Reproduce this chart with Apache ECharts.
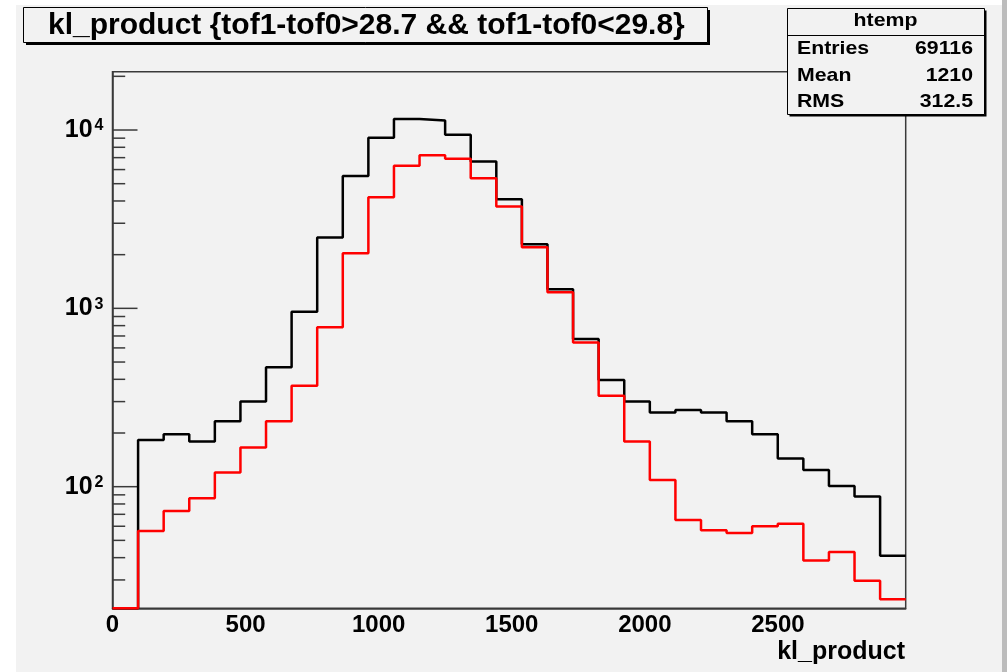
<!DOCTYPE html>
<html><head><meta charset="utf-8">
<script src="https://cdn.jsdelivr.net/npm/echarts@6/dist/echarts.min.js"></script>
<style>html,body{margin:0;padding:0;background:#fff}#c{width:1007px;height:672px}</style>
</head><body><div id="c"></div>
<script>
// ---- data ----
const titleText = 'kl_product {tof1-tof0>28.7 && tof1-tof0<29.8}';
const histName = 'htemp';
const xAxisTitle = 'kl_product';
const statLabels = ['Entries', 'Mean', 'RMS'];
const statValues = ['69116', '1210', '312.5'];
const xMin = 0, xMax = 2980, nBins = 31;
const yMin = 20.8, yMax = 21230;
const xTickInterval = 500;
// bin contents (all events, black) and selected (red)
const blackCounts = [0, 183, 197, 179, 233, 300, 468, 957, 2493, 5530, 9060, 11530, 11290, 9400, 6650, 4090,
  2285, 1280, 673, 396, 300, 261, 269, 261, 233, 197, 144, 124, 101, 88, 41];
const redCounts = [0, 56.5, 73, 86, 120, 166, 233, 368, 783, 2040, 4200, 6300, 7230, 6890, 5370, 3720,
  2200, 1230, 643, 323, 179, 109, 65, 57, 55, 60, 62, 38.5, 43, 29.7, 23.4];
const yMajorTicks = [100, 1000, 10000];
const yMinorTicks = [30, 40, 50, 60, 70, 80, 90, 200, 300, 400, 500, 600, 700, 800, 900,
  2000, 3000, 4000, 5000, 6000, 7000, 8000, 9000, 20000];

// ---- build ----
function stepData(counts) {
  const w = (xMax - xMin) / nBins;
  const d = counts.map((c, i) => [xMin + i * w, c > 0 ? c : yMin]);
  const last = counts[counts.length - 1];
  d.push([xMax, last > 0 ? last : yMin]);
  return d;
}
function tickSeries(vals, len) {
  return {
    type: 'custom', silent: true, z: 3, clip: false,
    data: vals.map(v => [xMin, v]),
    encode: { x: 0, y: 1 },
    renderItem: function (params, api) {
      const p = api.coord([api.value(0), api.value(1)]);
      return { type: 'line', shape: { x1: p[0], y1: p[1], x2: p[0] + len, y2: p[1] },
        style: { stroke: '#3a3a3a', lineWidth: 1.5 } };
    }
  };
}
const FF = '"Liberation Sans", Arial, Helvetica, sans-serif';
const chart = echarts.init(document.getElementById('c'), null, { renderer: 'canvas' });

const statsX = 787, statsY = 8, statsW = 197, statsH = 106;
const rowsY = [48.5, 75.5, 101.5];
const statGraphics = [];
statLabels.forEach((lab, i) => {
  statGraphics.push({ type: 'text', x: statsX + 10, y: rowsY[i], scaleX: 1.12, z: 101,
    style: { text: lab, fontFamily: FF, fontWeight: 'bold', fontSize: 19, fill: '#000', align: 'left', verticalAlign: 'middle' } });
  statGraphics.push({ type: 'text', x: statsX + statsW - 11, y: rowsY[i], scaleX: 1.12, z: 101,
    style: { text: statValues[i], fontFamily: FF, fontWeight: 'bold', fontSize: 19, fill: '#000', align: 'right', verticalAlign: 'middle' } });
});

chart.setOption({
  backgroundColor: '#f2f2f2',
  animation: false,
  grid: { left: 112.5, right: 101.3, top: 71.7, bottom: 63.7, show: true, borderColor: '#3a3a3a', borderWidth: 1.5, backgroundColor: 'transparent' },
  xAxis: {
    type: 'value', min: xMin, max: xMax, interval: xTickInterval,
    axisLine: { show: true, lineStyle: { color: '#3a3a3a', width: 1.5 } },
    axisTick: { show: false }, splitLine: { show: false },
    axisLabel: { showMaxLabel: false, margin: 17, verticalAlign: 'middle', color: '#000', fontFamily: FF, fontWeight: 'bold', fontSize: 24,
      formatter: function (v) { return String(v); } }
  },
  yAxis: {
    type: 'log', logBase: 10, min: yMin, max: yMax,
    axisLine: { show: true, lineStyle: { color: '#3a3a3a', width: 1.5 } },
    axisTick: { show: false }, splitLine: { show: false }, minorTick: { show: false },
    axisLabel: {
      showMinLabel: false, showMaxLabel: false, margin: 9,
      formatter: function (v) {
        const e = Math.round(Math.log10(v));
        if (Math.abs(Math.pow(10, e) - v) > 1e-6 * v) return '';
        return '{b|10}{s|' + e + '}';
      },
      rich: {
        b: { fontFamily: FF, fontWeight: 'bold', fontSize: 25, lineHeight: 24, color: '#000' },
        s: { fontFamily: FF, fontWeight: 'bold', fontSize: 16, lineHeight: 12, color: '#000', verticalAlign: 'top', padding: [0, 0, 0, 2] }
      }
    }
  },
  series: [
    { name: 'all', type: 'line', step: 'end', showSymbol: false, clip: false, z: 4,
      data: stepData(blackCounts), lineStyle: { color: '#000', width: 2.5 }, itemStyle: { color: '#000' } },
    { name: 'cut', type: 'line', step: 'end', showSymbol: false, clip: false, z: 5,
      data: stepData(redCounts), lineStyle: { color: '#ff0000', width: 2.5 }, itemStyle: { color: '#ff0000' } },
    tickSeries(yMajorTicks, 25),
    tickSeries(yMinorTicks, 12.7)
  ],
  graphic: [
    { type: 'rect', shape: { x: 0, y: 0, width: 1007, height: 5 }, style: { fill: '#ffffff' }, z: 90, silent: true },
    { type: 'rect', shape: { x: 0, y: 0, width: 16, height: 672 }, style: { fill: '#ffffff' }, z: 90, silent: true },
    { type: 'rect', shape: { x: 1002, y: 0, width: 5, height: 672 }, style: { fill: '#bcbcbc' }, z: 90, silent: true },
    // title box
    { type: 'rect', shape: { x: 26, y: 10, width: 684, height: 35 }, style: { fill: '#000' }, z: 100, silent: true },
    { type: 'rect', shape: { x: 23.5, y: 7.5, width: 684, height: 35 }, style: { fill: '#f2f2f2', stroke: '#000', lineWidth: 1 }, z: 100, silent: true },
    { type: 'text', x: 48, y: 26, z: 101, silent: true,
      style: { text: titleText, fontFamily: FF, fontWeight: 'bold', fontSize: 30, fill: '#000', align: 'left', verticalAlign: 'middle' } },
    // stats box
    { type: 'rect', shape: { x: statsX + 2.5, y: statsY + 2.5, width: statsW, height: statsH }, style: { fill: '#000' }, z: 100, silent: true },
    { type: 'rect', shape: { x: statsX + 0.5, y: statsY + 0.5, width: statsW, height: statsH }, style: { fill: '#f2f2f2', stroke: '#000', lineWidth: 1 }, z: 100, silent: true },
    { type: 'line', shape: { x1: statsX, y1: 35.5, x2: statsX + statsW, y2: 35.5 }, style: { stroke: '#000', lineWidth: 1 }, z: 101, silent: true },
    { type: 'text', x: statsX + statsW / 2, y: 21, scaleX: 1.12, z: 101, silent: true,
      style: { text: histName, fontFamily: FF, fontWeight: 'bold', fontSize: 19, fill: '#000', align: 'center', verticalAlign: 'middle' } },
    ...statGraphics,
    // x axis title
    { type: 'text', x: 905, y: 652, z: 101, silent: true,
      style: { text: xAxisTitle, fontFamily: FF, fontWeight: 'bold', fontSize: 25, fill: '#000', align: 'right', verticalAlign: 'middle' } }
  ]
});
</script></body></html>
